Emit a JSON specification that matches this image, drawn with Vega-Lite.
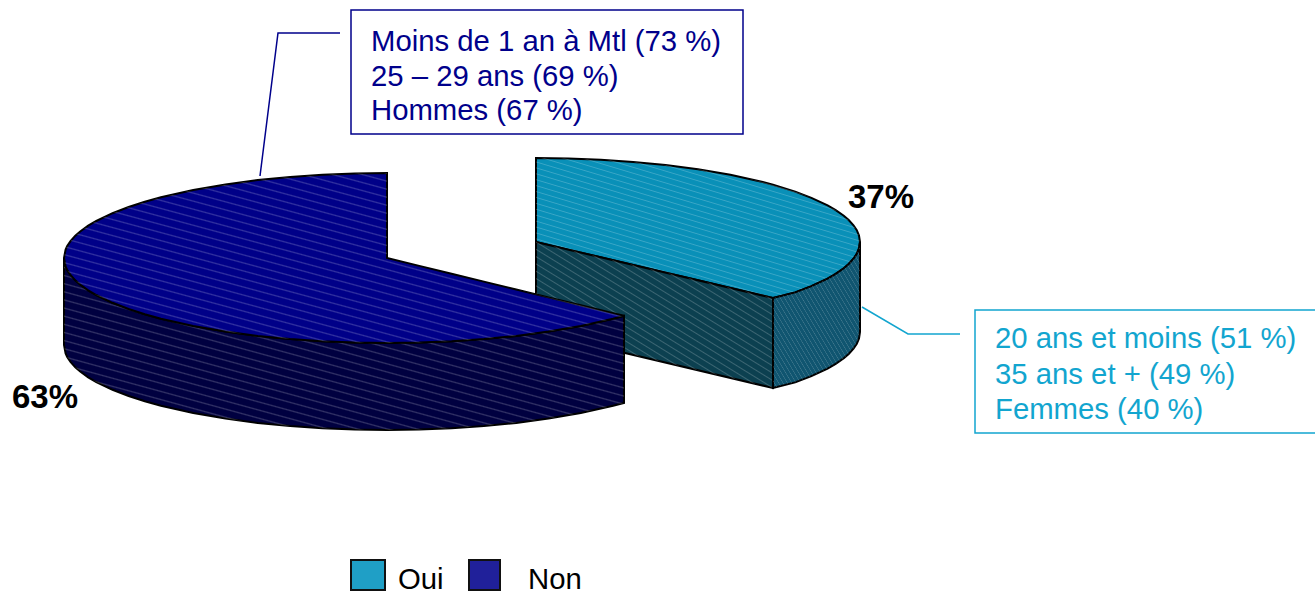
{"$schema":"https://vega.github.io/schema/vega-lite/v6.json","width":1315,"height":592,"autosize":{"type":"none"},"padding":0,"background":"white","view":{"stroke":null},
"params":[{"name":"hatch","value":[{"offset":0.021,"color":"#fff0"},{"offset":0.025,"color":"#fff3"},{"offset":0.029,"color":"#fff0"},{"offset":0.046,"color":"#fff0"},{"offset":0.05,"color":"#fff3"},{"offset":0.054,"color":"#fff0"},{"offset":0.071,"color":"#fff0"},{"offset":0.075,"color":"#fff3"},{"offset":0.079,"color":"#fff0"},{"offset":0.096,"color":"#fff0"},{"offset":0.1,"color":"#fff3"},{"offset":0.104,"color":"#fff0"},{"offset":0.121,"color":"#fff0"},{"offset":0.125,"color":"#fff3"},{"offset":0.129,"color":"#fff0"},{"offset":0.146,"color":"#fff0"},{"offset":0.15,"color":"#fff3"},{"offset":0.154,"color":"#fff0"},{"offset":0.171,"color":"#fff0"},{"offset":0.175,"color":"#fff3"},{"offset":0.179,"color":"#fff0"},{"offset":0.196,"color":"#fff0"},{"offset":0.2,"color":"#fff3"},{"offset":0.204,"color":"#fff0"},{"offset":0.221,"color":"#fff0"},{"offset":0.225,"color":"#fff3"},{"offset":0.229,"color":"#fff0"},{"offset":0.246,"color":"#fff0"},{"offset":0.25,"color":"#fff3"},{"offset":0.254,"color":"#fff0"},{"offset":0.271,"color":"#fff0"},{"offset":0.275,"color":"#fff3"},{"offset":0.279,"color":"#fff0"},{"offset":0.296,"color":"#fff0"},{"offset":0.3,"color":"#fff3"},{"offset":0.304,"color":"#fff0"},{"offset":0.321,"color":"#fff0"},{"offset":0.325,"color":"#fff3"},{"offset":0.329,"color":"#fff0"},{"offset":0.346,"color":"#fff0"},{"offset":0.35,"color":"#fff3"},{"offset":0.354,"color":"#fff0"},{"offset":0.371,"color":"#fff0"},{"offset":0.375,"color":"#fff3"},{"offset":0.379,"color":"#fff0"},{"offset":0.396,"color":"#fff0"},{"offset":0.4,"color":"#fff3"},{"offset":0.404,"color":"#fff0"},{"offset":0.421,"color":"#fff0"},{"offset":0.425,"color":"#fff3"},{"offset":0.429,"color":"#fff0"},{"offset":0.446,"color":"#fff0"},{"offset":0.45,"color":"#fff3"},{"offset":0.454,"color":"#fff0"},{"offset":0.471,"color":"#fff0"},{"offset":0.475,"color":"#fff3"},{"offset":0.479,"color":"#fff0"},{"offset":0.496,"color":"#fff0"},{"offset":0.5,"color":"#fff3"},{"offset":0.504,"color":"#fff0"},{"offset":0.521,"color":"#fff0"},{"offset":0.525,"color":"#fff3"},{"offset":0.529,"color":"#fff0"},{"offset":0.546,"color":"#fff0"},{"offset":0.55,"color":"#fff3"},{"offset":0.554,"color":"#fff0"},{"offset":0.571,"color":"#fff0"},{"offset":0.575,"color":"#fff3"},{"offset":0.579,"color":"#fff0"},{"offset":0.596,"color":"#fff0"},{"offset":0.6,"color":"#fff3"},{"offset":0.604,"color":"#fff0"},{"offset":0.621,"color":"#fff0"},{"offset":0.625,"color":"#fff3"},{"offset":0.629,"color":"#fff0"},{"offset":0.646,"color":"#fff0"},{"offset":0.65,"color":"#fff3"},{"offset":0.654,"color":"#fff0"},{"offset":0.671,"color":"#fff0"},{"offset":0.675,"color":"#fff3"},{"offset":0.679,"color":"#fff0"},{"offset":0.696,"color":"#fff0"},{"offset":0.7,"color":"#fff3"},{"offset":0.704,"color":"#fff0"},{"offset":0.721,"color":"#fff0"},{"offset":0.725,"color":"#fff3"},{"offset":0.729,"color":"#fff0"},{"offset":0.746,"color":"#fff0"},{"offset":0.75,"color":"#fff3"},{"offset":0.754,"color":"#fff0"},{"offset":0.771,"color":"#fff0"},{"offset":0.775,"color":"#fff3"},{"offset":0.779,"color":"#fff0"},{"offset":0.796,"color":"#fff0"},{"offset":0.8,"color":"#fff3"},{"offset":0.804,"color":"#fff0"},{"offset":0.821,"color":"#fff0"},{"offset":0.825,"color":"#fff3"},{"offset":0.829,"color":"#fff0"},{"offset":0.846,"color":"#fff0"},{"offset":0.85,"color":"#fff3"},{"offset":0.854,"color":"#fff0"},{"offset":0.871,"color":"#fff0"},{"offset":0.875,"color":"#fff3"},{"offset":0.879,"color":"#fff0"},{"offset":0.896,"color":"#fff0"},{"offset":0.9,"color":"#fff3"},{"offset":0.904,"color":"#fff0"},{"offset":0.921,"color":"#fff0"},{"offset":0.925,"color":"#fff3"},{"offset":0.929,"color":"#fff0"},{"offset":0.946,"color":"#fff0"},{"offset":0.95,"color":"#fff3"},{"offset":0.954,"color":"#fff0"},{"offset":0.971,"color":"#fff0"},{"offset":0.975,"color":"#fff3"},{"offset":0.979,"color":"#fff0"}]}],
"datasets":{
"rightTop":[{"x":536,"y":158,"y2":242},{"x":568.4,"y":158.4,"y2":249.7},{"x":600.8,"y":159.7,"y2":257.3},{"x":633.2,"y":161.9,"y2":265},{"x":665.6,"y":165,"y2":272.7},{"x":698,"y":169.3,"y2":280.3},{"x":730.4,"y":174.8,"y2":287.9},{"x":762.8,"y":182,"y2":295.6},{"x":773,"y":184.7,"y2":298},{"x":795.2,"y":191.6,"y2":292.4},{"x":811.4,"y":197.8,"y2":286.2},{"x":827.6,"y":205.4,"y2":278.6},{"x":835.7,"y":210.1,"y2":273.9},{"x":843.8,"y":215.8,"y2":268.2},{"x":848.7,"y":220,"y2":264},{"x":853.5,"y":225.3,"y2":258.7},{"x":856.8,"y":230.2,"y2":253.8},{"x":859,"y":235.5,"y2":248.5},{"x":860,"y":242,"y2":242}],
"rightCut":[{"x":536,"y":242,"y2":332},{"x":773,"y":298,"y2":388}],
"rightSide":[{"x":773,"y":298,"y2":388},{"x":795.2,"y":292.4,"y2":382.4},{"x":811.4,"y":286.2,"y2":376.2},{"x":827.6,"y":278.6,"y2":368.6},{"x":835.7,"y":273.9,"y2":363.9},{"x":843.8,"y":268.2,"y2":358.2},{"x":848.7,"y":264,"y2":354},{"x":853.5,"y":258.7,"y2":348.7},{"x":856.8,"y":253.8,"y2":343.8},{"x":859,"y":248.5,"y2":338.5},{"x":860,"y":242,"y2":332}],
"leftWall":[{"x":64,"y":258,"y2":345},{"x":65.6,"y":266.5,"y2":353.5},{"x":67.2,"y":270,"y2":357},{"x":70.5,"y":274.9,"y2":361.9},{"x":75.3,"y":280.3,"y2":367.3},{"x":80.2,"y":284.5,"y2":371.5},{"x":88.2,"y":290.3,"y2":377.3},{"x":96.3,"y":295,"y2":382},{"x":112.5,"y":302.8,"y2":389.8},{"x":128.6,"y":309,"y2":396},{"x":144.8,"y":314.2,"y2":401.2},{"x":160.9,"y":318.7,"y2":405.7},{"x":193.2,"y":326,"y2":413},{"x":225.5,"y":331.6,"y2":418.6},{"x":257.8,"y":335.9,"y2":422.9},{"x":290.1,"y":339.1,"y2":426.1},{"x":322.4,"y":341.3,"y2":428.3},{"x":354.7,"y":342.6,"y2":429.6},{"x":387,"y":343,"y2":430},{"x":419.3,"y":342.6,"y2":429.6},{"x":451.6,"y":341.3,"y2":428.3},{"x":483.9,"y":339.1,"y2":426.1},{"x":516.2,"y":335.9,"y2":422.9},{"x":548.5,"y":331.6,"y2":418.6},{"x":580.8,"y":326,"y2":413},{"x":613.1,"y":318.7,"y2":405.7},{"x":624,"y":315.8,"y2":403}],
"leftTop":[{"x":64,"y":258,"y2":258},{"x":65.6,"y":249.5,"y2":266.5},{"x":67.2,"y":246,"y2":270},{"x":70.5,"y":241.1,"y2":274.9},{"x":75.3,"y":235.7,"y2":280.3},{"x":80.2,"y":231.5,"y2":284.5},{"x":88.2,"y":225.7,"y2":290.3},{"x":96.3,"y":221,"y2":295},{"x":112.5,"y":213.2,"y2":302.8},{"x":128.6,"y":207,"y2":309},{"x":144.8,"y":201.8,"y2":314.2},{"x":160.9,"y":197.3,"y2":318.7},{"x":193.2,"y":190,"y2":326},{"x":225.5,"y":184.4,"y2":331.6},{"x":257.8,"y":180.1,"y2":335.9},{"x":290.1,"y":176.9,"y2":339.1},{"x":322.4,"y":174.7,"y2":341.3},{"x":354.7,"y":173.4,"y2":342.6},{"x":387,"y":173,"y2":343},{"x":387,"y":258,"y2":343},{"x":419.3,"y":265.9,"y2":342.6},{"x":451.6,"y":273.8,"y2":341.3},{"x":483.9,"y":281.6,"y2":339.1},{"x":516.2,"y":289.5,"y2":335.9},{"x":548.5,"y":297.4,"y2":331.6},{"x":580.8,"y":305.3,"y2":326},{"x":613.1,"y":313.1,"y2":318.7},{"x":624,"y":315.8,"y2":315.8}],
"boxes":[{"box":"Non","x":351,"x2":743,"y":10,"y2":134},{"box":"Oui","x":975,"x2":1316,"y":310,"y2":433}],
"leaders":[{"box":"Non","x":260,"y":176},{"box":"Non","x":278,"y":33},{"box":"Non","x":340,"y":33},{"box":"Oui","x":862,"y":307},{"box":"Oui","x":908,"y":334},{"box":"Oui","x":960,"y":334}],
"notes":[{"box":"Non","label":"Moins de 1 an à Mtl (73 %)","x":371,"y":51},{"box":"Non","label":"25 – 29 ans (69 %)","x":371,"y":86},{"box":"Non","label":"Hommes (67 %)","x":371,"y":120},{"box":"Oui","label":"20 ans et moins (51 %)","x":995,"y":348},{"box":"Oui","label":"35 ans et + (49 %)","x":995,"y":384},{"box":"Oui","label":"Femmes (40 %)","x":995,"y":419}],
"shares":[{"label":"37%","x":848,"y":208},{"label":"63%","x":12,"y":408}],
"legendKeys":[{"box":"Oui","x":351,"x2":385,"y":560,"y2":590},{"box":"Non","x":469,"x2":500,"y":560,"y2":590}],
"legendText":[{"label":"Oui","x":398,"y":589},{"label":"Non","x":528,"y":589}]
},
"encoding":{
"x":{"field":"x","type":"quantitative","axis":null,"scale":{"domain":[0,1315],"nice":false,"zero":false}},
"y":{"field":"y","type":"quantitative","axis":null,"scale":{"domain":[592,0],"nice":false,"zero":false}}
},
"layer":[
{"data":{"name":"rightTop"},"mark":{"type":"area","fill":"#0990b8","stroke":"#000","strokeWidth":2},"encoding":{"y2":{"field":"y2"}}},
{"data":{"name":"rightTop"},"mark":{"type":"area","fill":{"expr":"{gradient:'linear',x1:0,y1:1,x2:0.791,y2:-0.143,stops:hatch}"}},"encoding":{"y2":{"field":"y2"}}},
{"data":{"name":"rightCut"},"mark":{"type":"area","fill":"#0c4050","stroke":"#000","strokeWidth":2},"encoding":{"y2":{"field":"y2"}}},
{"data":{"name":"rightCut"},"mark":{"type":"area","fill":{"expr":"{gradient:'linear',x1:0,y1:1,x2:1,y2:0,stops:hatch}"}},"encoding":{"y2":{"field":"y2"}}},
{"data":{"name":"rightSide"},"mark":{"type":"area","fill":"#105570","stroke":"#000","strokeWidth":2},"encoding":{"y2":{"field":"y2"}}},
{"data":{"name":"rightSide"},"mark":{"type":"area","fill":{"expr":"{gradient:'linear',x1:0,y1:1,x2:1,y2:0,stops:hatch}"}},"encoding":{"y2":{"field":"y2"}}},
{"data":{"name":"leftWall"},"mark":{"type":"area","fill":"#000040","stroke":"#000","strokeWidth":2},"encoding":{"y2":{"field":"y2"}}},
{"data":{"name":"leftWall"},"mark":{"type":"area","fill":{"expr":"{gradient:'linear',x1:0,y1:1,x2:0.939,y2:-0.055,stops:hatch}"}},"encoding":{"y2":{"field":"y2"}}},
{"data":{"name":"leftTop"},"mark":{"type":"area","fill":"#000088","stroke":"#000","strokeWidth":2},"encoding":{"y2":{"field":"y2"}}},
{"data":{"name":"leftTop"},"mark":{"type":"area","fill":{"expr":"{gradient:'linear',x1:0,y1:1,x2:0.939,y2:-0.055,stops:hatch}"}},"encoding":{"y2":{"field":"y2"}}},
{"data":{"name":"leaders"},"mark":{"type":"line","strokeWidth":1.5},"encoding":{"detail":{"field":"box"},"order":{"field":"x"},"color":{"field":"box","type":"nominal","legend":null,"scale":{"domain":["Oui","Non"],"range":["#12a5cf","#00008b"]}}}},
{"data":{"name":"boxes"},"mark":{"type":"rect","fill":"white","strokeWidth":1.5},"encoding":{"x2":{"field":"x2"},"y2":{"field":"y2"},"stroke":{"field":"box","type":"nominal","legend":null,"scale":{"domain":["Oui","Non"],"range":["#12a5cf","#00008b"]}}}},
{"data":{"name":"notes"},"mark":{"type":"text","align":"left","baseline":"alphabetic","font":"Liberation Sans","fontSize":29.3},"encoding":{"text":{"field":"label"},"color":{"field":"box","type":"nominal","legend":null,"scale":{"domain":["Oui","Non"],"range":["#12a5cf","#00008b"]}}}},
{"data":{"name":"shares"},"mark":{"type":"text","align":"left","baseline":"alphabetic","font":"Liberation Sans","fontSize":33,"fontWeight":"bold","color":"#000"},"encoding":{"text":{"field":"label"}}},
{"data":{"name":"legendKeys"},"mark":{"type":"rect","stroke":"#111","strokeWidth":2},"encoding":{"x2":{"field":"x2"},"y2":{"field":"y2"},"fill":{"field":"box","type":"nominal","legend":null,"scale":{"domain":["Oui","Non"],"range":["#1f9fc6","#20209a"]}}}},
{"data":{"name":"legendText"},"mark":{"type":"text","align":"left","baseline":"alphabetic","font":"Liberation Sans","fontSize":29.3,"color":"#000"},"encoding":{"text":{"field":"label"}}}
]}
